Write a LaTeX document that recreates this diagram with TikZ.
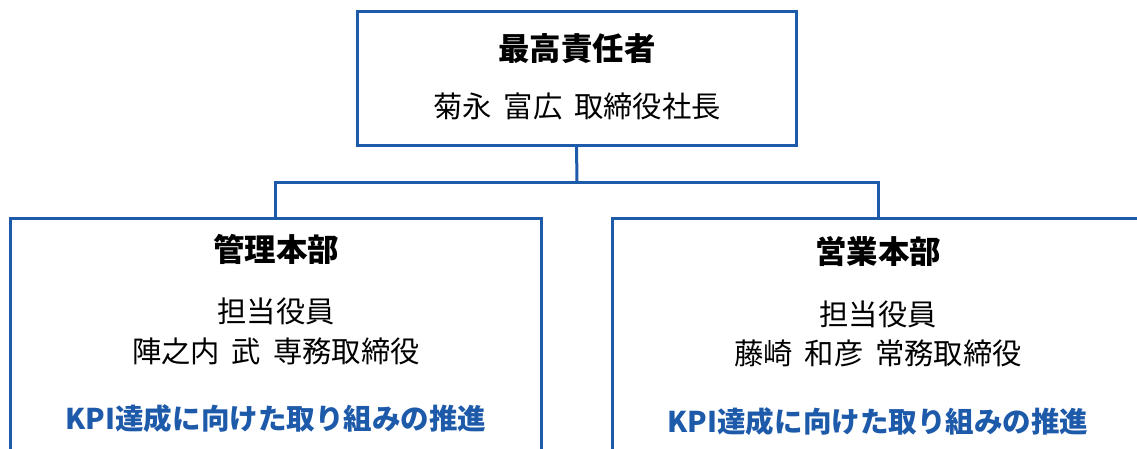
\documentclass[tikz,border=0pt]{standalone}
\usepackage{fontspec}
\setmainfont{Noto Sans CJK JP}[WordSpace=1.8]
\definecolor{orgblue}{RGB}{30,90,170}

\begin{document}
\begin{tikzpicture}[x=0.75pt, y=-0.75pt,
    box/.style={rectangle, draw=orgblue, line width=2.25pt, inner sep=0pt, outer sep=0pt},
    head/.style={font=\fontsize{23.6}{28}\selectfont\bfseries},
    body/.style={font=\fontsize{22}{28}\selectfont, inner sep=0pt},
    goal/.style={font=\fontsize{21.4}{26}\selectfont\bfseries, text=orgblue},
    link/.style={draw=orgblue, line width=2.25pt}]
  \clip (0,0) rectangle (1137,449);

  % boxes
  \node[box, minimum width=329.25pt, minimum height=100.5pt] (ceo) at (576.5,79) {};
  \node[box, minimum width=398.6pt, minimum height=196.5pt] (kanri) at (275.8,349) {};
  \node[box, minimum width=398.3pt, minimum height=196.5pt] (eigyo) at (878,349) {};

  % texts
  \node[head] (ceotitle) at (577,48.5) {最高責任者};
  \node[body] (ceoname) at (577,106) {菊永 富広 取締役社長};

  \node[head] (kanrititle) at (276,249) {管理本部};
  \node[body] (kanrirole) at (276,311) {担当役員};
  \node[body] (kanriname) at (276,351.5) {陣之内 武 専務取締役};
  \node[goal] (kanrigoal) at (276,419) {KPI達成に向けた取り組みの推進};

  \node[head] (eigyotitle) at (878,251.5) {営業本部};
  \node[body] (eigyorole) at (878,314) {担当役員};
  \node[body] (eigyoname) at (878,353.5) {藤崎 和彦 常務取締役};
  \node[goal] (eigyogoal) at (878,421.5) {KPI達成に向けた取り組みの推進};

  % connectors
  \coordinate (fork) at (577,182);
  \draw[link] (ceo.south) -- (fork);
  \draw[link] (kanri.north) |- (fork) -| (eigyo.north);
\end{tikzpicture}
\end{document}
